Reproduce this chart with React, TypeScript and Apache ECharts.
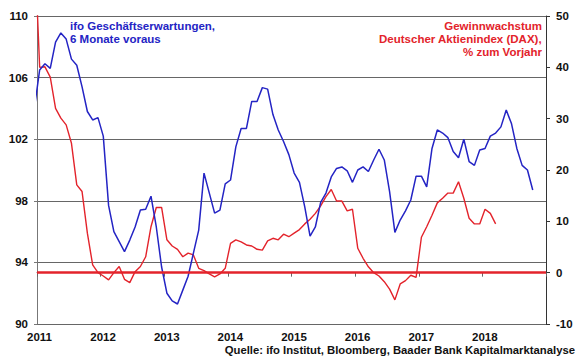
import React, { useEffect, useRef } from "react";
import * as echarts from "echarts";

// Monthly values, first entry = December 2010, plotted at mid-month
const ifoExpectations = [
  104.0, 106.5, 106.9, 106.6, 108.3, 108.9, 108.5, 107.2, 106.8, 105.4, 103.8, 103.25, 103.4,
  102.2, 97.7, 96.0, 95.35, 94.7, 95.45, 96.3, 97.4, 97.45, 98.3, 96.3, 93.7,
  92.0, 91.5, 91.3, 92.2, 93.1, 94.6, 96.1, 99.8, 98.5, 97.2, 97.4, 99.1,
  99.35, 101.5, 102.7, 102.7, 104.45, 104.45, 105.35, 105.25, 103.6, 102.6, 101.85, 101.0,
  99.8, 99.2, 97.6, 95.7, 96.3, 97.9, 98.5, 99.55, 100.1, 100.2, 99.95, 99.2,
  100.0, 100.2, 99.9, 100.65, 101.35, 100.65, 98.6, 95.95, 96.75, 97.35, 98.05, 99.6,
  99.6, 98.9, 101.4, 102.6, 102.4, 102.1, 101.2, 100.8, 102.0, 100.55, 100.3, 101.3,
  101.4, 102.2, 102.4, 102.8, 103.9, 103.0, 101.4, 100.3, 100.0, 98.7,
];

const daxEarningsGrowth = [
  65, 40, 40.1, 38.1, 32.0, 30.1, 28.8, 25.2, 17.1, 15.8, 7.7, 1.5, 0.0,
  -0.65, -1.4, 0.0, 1.2, -1.3, -1.95, 0.2, 1.2, 3.1, 8.95, 12.7, 12.7,
  6.4, 5.2, 4.55, 3.1, 3.8, 3.45, 0.85, 0.4, -0.25, -0.8, -0.25, 0.85,
  5.7, 6.4, 6.0, 5.4, 5.2, 4.55, 4.4, 6.2, 6.7, 6.4, 7.5, 7.0,
  7.7, 8.4, 9.5, 10.4, 11.55, 13.0, 14.8, 16.2, 13.95, 13.95, 12.05, 12.35,
  4.75, 2.8, 1.15, 0.0, -0.65, -1.75, -3.2, -5.3, -2.2, -1.55, -0.5, -0.9,
  6.9, 8.95, 11.2, 13.6, 14.5, 15.5, 15.5, 17.7, 14.5, 10.6, 9.5, 9.5,
  12.35, 11.55, 9.5,
];

const xYears = [2011, 2012, 2013, 2014, 2015, 2016, 2017, 2018, 2019];
const leftAxisRange = [90, 110];
const rightAxisRange = [-10, 50];

const blueLegend = ["ifo Geschäftserwartungen,", "6 Monate voraus"];
const redLegend = ["Gewinnwachstum", "Deutscher Aktienindex (DAX),", "% zum Vorjahr"];
const sourceText = "Quelle: ifo Institut, Bloomberg, Baader Bank Kapitalmarktanalyse";

const BLUE = "#2424c4";
const RED = "#e3232b";
const FONT = '"Liberation Sans", Arial, sans-serif';

const monthPos = (i: number) => 2010 + (11 + i + 0.5) / 12;

export default function App() {
  const ref = useRef<HTMLDivElement>(null);
  useEffect(() => {
    if (!ref.current) return;
    const chart = echarts.init(ref.current, undefined, { renderer: "svg" });
    const labelStyle = { color: "#111", fontWeight: "bold" as const, fontSize: 11.5, fontFamily: FONT };
    chart.setOption({
      animation: false,
      backgroundColor: "#fff",
      grid: { left: 37, right: 34, top: 16, bottom: 35, containLabel: false, outerBoundsMode: "none" },
      xAxis: {
        type: "value",
        min: xYears[0],
        max: xYears[xYears.length - 1],
        interval: 1,
        axisLine: { show: true, lineStyle: { color: "#666", width: 1 } },
        axisTick: { show: true, length: 4, lineStyle: { color: "#666" } },
        axisLabel: {
          ...labelStyle,
          margin: 7,
          padding: [0, 0, 0, 5],
          formatter: (v: number) => (v === xYears[xYears.length - 1] ? "" : String(v)),
        },
        splitLine: { show: false },
      },
      yAxis: [
        {
          type: "value",
          position: "left",
          min: leftAxisRange[0],
          max: leftAxisRange[1],
          interval: 4,
          axisLine: { show: true, lineStyle: { color: "#777", width: 1 } },
          axisTick: { show: true, length: 3, lineStyle: { color: "#777" } },
          axisLabel: { ...labelStyle, margin: 9 },
          splitLine: { show: true, lineStyle: { color: "#666", width: 1 } },
        },
        {
          type: "value",
          position: "right",
          min: rightAxisRange[0],
          max: rightAxisRange[1],
          interval: 10,
          axisLine: { show: true, lineStyle: { color: "#333", width: 1 } },
          axisTick: { show: true, length: 4, lineStyle: { color: "#333" } },
          axisLabel: { ...labelStyle, margin: 10 },
          splitLine: { show: false },
        },
      ],
      series: [
        {
          name: "Gewinnwachstum DAX",
          type: "line",
          yAxisIndex: 1,
          data: daxEarningsGrowth.map((v, i) => [monthPos(i), v]),
          showSymbol: false,
          clip: true,
          lineStyle: { color: RED, width: 1.4 },
          markLine: {
            silent: true,
            symbol: "none",
            label: { show: false },
            lineStyle: { color: RED, width: 2.5, type: "solid" },
            data: [{ yAxis: 0 }],
          },
          z: 2,
        },
        {
          name: "ifo Geschäftserwartungen",
          type: "line",
          yAxisIndex: 0,
          data: ifoExpectations.map((v, i) => [monthPos(i), v]),
          showSymbol: false,
          clip: true,
          lineStyle: { color: BLUE, width: 1.5 },
          z: 3,
        },
      ],
      graphic: [
        ...blueLegend.map((t, i) => ({
          type: "text",
          left: 70,
          top: 20 + i * 12.5,
          style: { text: t, fill: BLUE, font: `bold 11.5px ${FONT}` },
        })),
        ...redLegend.map((t, i) => ({
          type: "text",
          right: 38,
          top: 20 + i * 12.8,
          style: { text: t, fill: RED, font: `bold 11.5px ${FONT}` },
        })),
        {
          type: "text",
          right: 5,
          top: 344,
          style: { text: sourceText, fill: "#111", font: `bold 11.3px ${FONT}` },
        },
      ],
    });
    return () => chart.dispose();
  }, []);
  return (
    <div
      ref={ref}
      style={{ position: "fixed", left: 0, top: 0, width: 580, height: 359, background: "#fff" }}
    />
  );
}
